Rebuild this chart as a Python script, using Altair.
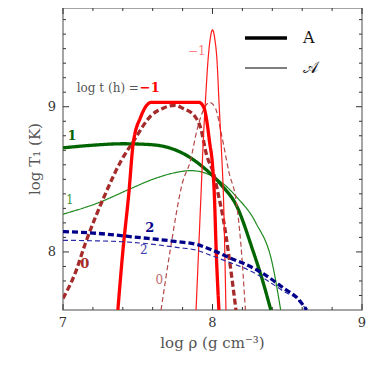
import altair as alt
import pandas as pd

# ---- curve data (log rho, log T1) ----
red_A_x = [7.367, 7.40, 7.44, 7.47, 7.52, 7.56, 7.59, 7.75, 7.91, 7.944, 7.965, 7.98, 8.0, 8.012, 8.025, 8.043]
red_A_y = [7.6, 8.0, 8.4, 8.75, 8.93, 9.01, 9.03, 9.03, 9.03, 8.99, 8.88, 8.76, 8.6, 8.4, 8.0, 7.6]

red_c_x = [7.89, 7.92, 7.94, 7.955, 7.97, 7.985, 7.993, 8.0, 8.007, 8.015, 8.03, 8.045, 8.06, 8.075, 8.09]
red_c_y = [7.6, 8.32, 8.8, 9.08, 9.32, 9.47, 9.515, 9.53, 9.515, 9.47, 9.32, 9.0, 8.7, 8.32, 7.6]

brown_A_x = [7.0, 7.08, 7.15, 7.275, 7.39, 7.47, 7.59, 7.67, 7.75, 7.80, 7.885, 7.92, 7.96, 8.01, 8.04, 8.07, 8.11, 8.157]
brown_A_y = [7.68, 7.85, 8.06, 8.38, 8.63, 8.76, 8.94, 8.99, 9.01, 8.99, 8.93, 8.855, 8.67, 8.53, 8.39, 8.24, 7.97, 7.6]

brown_c_x = [7.656, 7.72, 7.80, 7.85, 7.90, 7.94, 7.98, 8.02, 8.06, 8.11, 8.16, 8.19, 8.22]
brown_c_y = [7.6, 8.03, 8.48, 8.62, 8.855, 8.98, 9.03, 8.99, 8.81, 8.55, 8.34, 8.05, 7.6]

green_A_x = [7.0, 7.2, 7.4, 7.57, 7.70, 7.80, 7.93, 8.06, 8.16, 8.27, 8.33, 8.39]
green_A_y = [8.717, 8.735, 8.745, 8.74, 8.72, 8.68, 8.59, 8.46, 8.32, 8.01, 7.82, 7.6]

green_c_x = [7.0, 7.24, 7.44, 7.6, 7.77, 7.85, 7.93, 8.06, 8.16, 8.29, 8.40, 8.456]
green_c_y = [8.26, 8.34, 8.43, 8.5, 8.55, 8.56, 8.55, 8.48, 8.38, 8.2, 7.92, 7.6]

blue_A_x = [7.0, 7.2, 7.5, 7.77, 7.90, 7.98, 8.16, 8.21, 8.34, 8.49, 8.56, 8.63]
blue_A_y = [8.14, 8.13, 8.10, 8.07, 8.05, 8.02, 7.94, 7.92, 7.85, 7.74, 7.69, 7.6]

blue_c_x = [7.0, 7.4, 7.77, 7.90, 7.98, 8.16, 8.21, 8.34, 8.49, 8.56, 8.63]
blue_c_y = [8.08, 8.07, 8.03, 8.01, 7.98, 7.91, 7.89, 7.82, 7.72, 7.68, 7.6]

curves = [
    ("g_c", "𝒜", green_c_x, green_c_y),
    ("g_A", "A", green_A_x, green_A_y),
    ("b_c", "𝒜", brown_c_x, brown_c_y),
    ("b_A", "A", brown_A_x, brown_A_y),
    ("r_c", "𝒜", red_c_x, red_c_y),
    ("r_A", "A", red_A_x, red_A_y),
    ("n_c", "𝒜", blue_c_x, blue_c_y),
    ("n_A", "A", blue_A_x, blue_A_y),
]

# ---- axis ticks and tick labels ----
x_labels = [7, 8, 9]
y_labels = [8, 9]
x_major = [7.0, 8.0, 9.0]
x_minor = [7.2, 7.4, 7.6, 7.8, 8.2, 8.4, 8.6, 8.8]
y_major = [8.0, 9.0]
y_minor = [7.7, 7.8, 7.9, 8.1, 8.2, 8.3, 8.4, 8.5, 8.6, 8.7, 8.8, 8.9,
           9.1, 9.2, 9.3, 9.4, 9.5, 9.6]
x_title = "log ρ (g cm⁻³)"
y_title = "log T₁ (K)"

# ---- annotation labels ----
bold_text = ["1", "0", "2", "\u22121"]
bold_x = [7.06, 7.145, 7.58, 7.58]
bold_y = [8.80, 7.92, 8.165, 9.13]
bold_key = ["g", "b", "n", "r"]

norm_text = ["log t (h) =", "\u22121", "1", "0", "2"]
norm_x = [7.30, 7.895, 7.045, 7.645, 7.54]
norm_y = [9.13, 9.386, 8.36, 7.81, 8.01]
norm_key = ["gray", "r_l", "g_l", "b_l", "n_l"]

# ---- styles ----
line_colors = {"g_c": "#1f8a1f", "g_A": "#006400", "b_c": "#b34848", "b_A": "#a52a2a",
               "r_c": "#ff1a1a", "r_A": "#ff0000", "n_c": "#2b2ba6", "n_A": "#00008b"}
line_dash = {"g_c": [1, 0], "g_A": [1, 0], "b_c": [5, 3], "b_A": [6, 3],
             "r_c": [1, 0], "r_A": [1, 0], "n_c": [5, 3], "n_A": [6, 3]}
text_colors = {"g": "#006400", "b": "#a52a2a", "n": "#00008b", "r": "#ff0000",
               "gray": "#555555", "r_l": "#ff8080", "g_l": "#3c9a3c", "b_l": "#c06a6a", "n_l": "#3c3cb0"}

rows = []
for name, model, xs_, ys_ in curves:
    for i, (x, y) in enumerate(zip(xs_, ys_)):
        rows.append({"curve": name, "model": model, "i": i, "rho": x, "T": y})
df = pd.DataFrame(rows)

bold_df = pd.DataFrame({"text": bold_text, "rho": bold_x, "T": bold_y,
                        "color": [text_colors[k] for k in bold_key]})
norm_df = pd.DataFrame({"text": norm_text, "rho": norm_x, "T": norm_y,
                        "color": [text_colors[k] for k in norm_key]})

W, H = 299, 302
XD, YD = [7, 9], [7.6, 9.68]
FONT = "DejaVu Serif"
xs = alt.Scale(domain=XD, nice=False, zero=False)
ys = alt.Scale(domain=YD, nice=False, zero=False)
TICKC = "#333333"
MAJ, MIN = 6, 3  # tick lengths in pixels
xpx = (XD[1] - XD[0]) / W  # data units per pixel
ypx = (YD[1] - YD[0]) / H

lines = alt.Chart(df).mark_line(clip=True, interpolate="monotone").encode(
    x=alt.X("rho:Q", scale=xs, axis=None),
    y=alt.Y("T:Q", scale=ys, axis=None),
    color=alt.Color("curve:N", scale=alt.Scale(domain=list(line_colors.keys()),
                                               range=list(line_colors.values())), legend=None),
    strokeDash=alt.StrokeDash("curve:N", scale=alt.Scale(domain=list(line_dash.keys()),
                                                         range=list(line_dash.values())), legend=None),
    strokeWidth=alt.StrokeWidth("model:N", scale=alt.Scale(domain=["A", "𝒜"], range=[3.3, 1.2]),
                                legend=alt.Legend(orient="none", legendX=180, legendY=7, title=None,
                                                  symbolType="stroke", symbolSize=1764,
                                                  symbolStrokeColor="black", rowPadding=-17,
                                                  labelOffset=14, labelFontSize=16, labelFont=FONT,
                                                  labelColor="#111", padding=0)),
    detail="curve:N",
    order="i:Q",
)

bold = alt.Chart(bold_df).mark_text(font=FONT, fontSize=13, fontWeight="bold").encode(
    x=alt.X("rho:Q", scale=xs, axis=None), y=alt.Y("T:Q", scale=ys, axis=None),
    text="text:N", color=alt.Color("color:N", scale=None),
)

norm = alt.Chart(norm_df).mark_text(font=FONT, fontSize=12).encode(
    x=alt.X("rho:Q", scale=xs, axis=None), y=alt.Y("T:Q", scale=ys, axis=None),
    text="text:N", color=alt.Color("color:N", scale=None),
)

# inward-pointing frame ticks: both ends go through the x / y scales
tick_layers = []
for vals, ln in ((x_major, MAJ), (x_minor, MIN)):
    d = pd.DataFrame({"v": vals})
    for a, b in ((YD[0], YD[0] + ln * ypx), (YD[1], YD[1] - ln * ypx)):
        tick_layers.append(alt.Chart(d).mark_rule(color=TICKC, strokeWidth=1).transform_calculate(
            a=str(a), b=str(b)).encode(
            x=alt.X("v:Q", scale=xs, axis=None), y=alt.Y("a:Q", scale=ys, axis=None), y2="b:Q"))
for vals, ln in ((y_major, MAJ), (y_minor, MIN)):
    d = pd.DataFrame({"v": vals})
    for a, b in ((XD[0], XD[0] + ln * xpx), (XD[1], XD[1] - ln * xpx)):
        tick_layers.append(alt.Chart(d).mark_rule(color=TICKC, strokeWidth=1).transform_calculate(
            a=str(a), b=str(b)).encode(
            y=alt.Y("v:Q", scale=ys, axis=None), x=alt.X("a:Q", scale=xs, axis=None), x2="b:Q"))

# tick labels and axis titles
xl = alt.Chart(pd.DataFrame({"v": x_labels})).mark_text(
    font=FONT, fontSize=13, color="#333", baseline="middle", align="center").encode(
    x=alt.X("v:Q", scale=xs, axis=None), y=alt.value(H + 13), text=alt.Text("v:Q", format="d"))
yl = alt.Chart(pd.DataFrame({"v": y_labels})).mark_text(
    font=FONT, fontSize=13, color="#333", baseline="middle", align="right").encode(
    y=alt.Y("v:Q", scale=ys, axis=None), x=alt.value(-7), text=alt.Text("v:Q", format="d"))
xt = alt.Chart(pd.DataFrame({"t": [x_title]})).mark_text(
    font=FONT, fontSize=15, color="#555", baseline="middle", align="center").encode(
    x=alt.value(W / 2), y=alt.value(H + 33), text="t:N")
yt = alt.Chart(pd.DataFrame({"t": [y_title]})).mark_text(
    font=FONT, fontSize=15, color="#555", baseline="middle", align="center", angle=270).encode(
    x=alt.value(-28), y=alt.value(H / 2), text="t:N")

chart = alt.layer(*tick_layers, lines, bold, norm, xl, yl, xt, yt).resolve_scale(
    color="independent"
).properties(
    width=W, height=H,
    autosize=alt.AutoSizeParams(type="none"),
    padding={"left": 55, "top": 0, "right": 4, "bottom": 50},
).configure_view(
    stroke="#888888", strokeWidth=1.5
)

chart.save("out.html", embed_options={"renderer": "svg", "actions": False})
